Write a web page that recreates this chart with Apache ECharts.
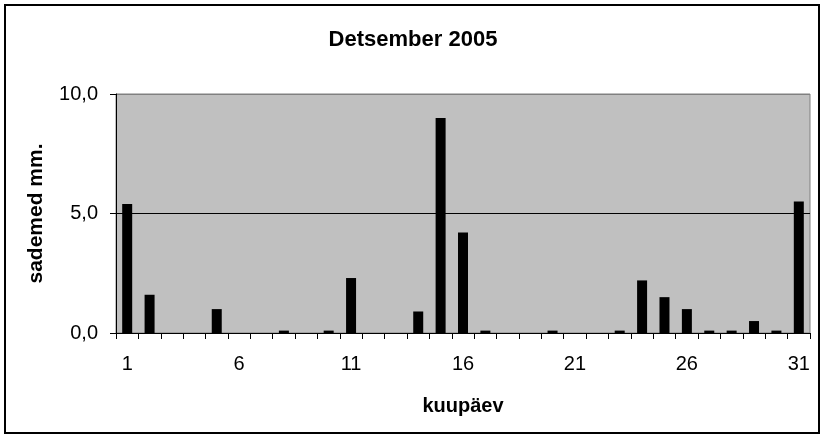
<!DOCTYPE html>
<html>
<head>
<meta charset="utf-8">
<script src="https://cdn.jsdelivr.net/npm/echarts@6/dist/echarts.min.js"></script>
<style>
  html, body { margin: 0; padding: 0; background: #fff; }
  #chart { width: 826px; height: 440px; }
</style>
</head>
<body>
<div id="chart"></div>
<script>
// daily precipitation, December 2005
const days = ['1','2','3','4','5','6','7','8','9','10','11','12','13','14','15','16',
  '17','18','19','20','21','22','23','24','25','26','27','28','29','30','31']
const precipitation = [5.4, 1.6, 0, 0, 1.0, 0, 0, 0.1, 0, 0.1, 2.3, 0, 0, 0.9, 9.0, 4.2,
  0.1, 0, 0, 0.1, 0, 0, 0.1, 2.2, 1.5, 1.0, 0.1, 0.1, 0.5, 0.1, 5.5]
const yTicks = [0, 5, 10]

const fontFamily = '"Liberation Sans", Arial, sans-serif'

const chart = echarts.init(document.getElementById('chart'))
const option = {
  animation: false,
  title: {
    text: 'Detsember 2005',
    left: 'center',
    top: 24,
    textStyle: { fontFamily, fontSize: 22, fontWeight: 'bold', color: '#000' }
  },
  grid: {
    left: 116,
    right: 16,
    top: 94,
    bottom: 107,
    show: true,
    backgroundColor: '#c0c0c0',
    borderColor: '#808080',
    borderWidth: 1
  },
  xAxis: {
    type: 'category',
    data: days,
    name: 'kuupäev',
    nameLocation: 'middle',
    nameGap: 63,
    nameTextStyle: { fontFamily, fontSize: 20, fontWeight: 'bold', color: '#000' },
    axisLine: { lineStyle: { color: '#000', width: 1 } },
    axisTick: { show: true, interval: 0, length: 6, lineStyle: { color: '#000' } },
    axisLabel: { interval: 4, margin: 21, fontFamily, fontSize: 20, color: '#000' }
  },
  yAxis: {
    type: 'value',
    min: yTicks[0],
    max: yTicks[yTicks.length - 1],
    interval: yTicks[1] - yTicks[0],
    name: 'sademed mm.',
    nameLocation: 'middle',
    nameGap: 69,
    nameRotate: 90,
    nameTextStyle: { fontFamily, fontSize: 21, fontWeight: 'bold', color: '#000' },
    axisLine: { show: true, lineStyle: { color: '#000', width: 1 } },
    axisTick: { show: true, length: 6, lineStyle: { color: '#000' } },
    axisLabel: {
      margin: 18,
      fontFamily,
      fontSize: 20,
      color: '#000',
      formatter: v => v.toFixed(1).replace('.', ',')
    },
    splitLine: { show: true, lineStyle: { color: ['#000', '#000', '#808080'], width: 1 } }
  },
  series: [{
    type: 'bar',
    data: precipitation,
    barWidth: 10,
    itemStyle: { color: '#000' }
  }],
  graphic: [{
    type: 'rect',
    shape: { x: 5, y: 5, width: 814, height: 428 },
    style: { fill: 'none', stroke: '#000', lineWidth: 2 },
    silent: true
  }]
}
chart.setOption(option)
</script>
</body>
</html>
